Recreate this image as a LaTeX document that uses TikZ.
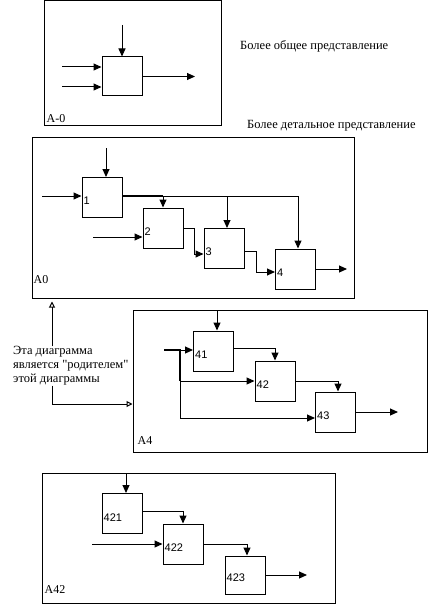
\documentclass[tikz,border=0pt]{standalone}
\usepackage{fontspec}
\setmainfont[Ligatures=TeXOff]{Liberation Serif}
\newfontfamily\numfont{Liberation Sans}
\usetikzlibrary{arrows.meta}

\begin{document}
\begin{tikzpicture}[x=1pt, y=-1pt,
    frame/.style={rectangle, draw, line width=1pt, inner sep=0pt},
    box/.style={rectangle, draw, line width=1pt, minimum width=40pt, minimum height=40pt, inner sep=0pt},
    num/.style={anchor=west, inner sep=2pt, font=\numfont\fontsize{11}{13}\selectfont},
    tag/.style={anchor=base west, inner sep=0pt, font=\fontsize{12}{14}\selectfont},
    note/.style={inner sep=0pt, font=\fontsize{12.5}{14}\selectfont},
    arrow/.style={-{Triangle[length=8pt,width=7pt]}, line width=1pt},
    parent/.style={-{Triangle[open,length=6pt,width=6pt]}, line width=1pt},
    heavy/.style={line width=2.2pt}
]
    \useasboundingbox (0,0) rectangle (440,607);

    % Frames
    \node[frame, minimum width=177pt, minimum height=124pt] (f1) at (132.5,63) {};
    \node[frame, minimum width=322pt, minimum height=161pt] (f2) at (193,217.5) {};
    \node[frame, minimum width=294pt, minimum height=142pt] (f3) at (280,381) {};
    \node[frame, minimum width=293pt, minimum height=130pt] (f4) at (188.5,538) {};
    \node[tag] (tf1) at ([xshift=3pt,yshift=3pt]f1.south west) {A-0};
    \node[tag] (tf2) at ([xshift=2pt,yshift=15pt]f2.south west) {A0};
    \node[tag] (tf3) at ([xshift=5pt,yshift=8pt]f3.south west) {A4};
    \node[tag] (tf4) at ([xshift=3pt,yshift=10pt]f4.south west) {A42};

    % Notes
    \node[note, anchor=west] (t1) at (240,46) {Более общее представление};
    \node[note, anchor=west] (t2) at (247,126) {Более детальное представление};
    \node[note, anchor=west, align=left] (note) at (13,366) {Эта диаграмма\\является "родителем"\\этой диаграммы};

    % A-0
    \node[box, minimum height=39pt] (b0) at (122,76.5) {};
    \coordinate (c0) at (122,25);
    \coordinate (i01) at (62,67);
    \coordinate (i02) at (62,87);
    \coordinate (o0) at (195,76.5);
    \draw[arrow] (c0) -- (b0.north);
    \draw[arrow] (i01) -- (i01 -| b0.west);
    \draw[arrow] (i02) -- (i02 -| b0.west);
    \draw[arrow] (b0.east) -- (o0);

    % A0
    \node[box] (b1) at (102,197.5) {};
    \node[box] (b2) at (163,228) {};
    \node[box] (b3) at (224,248.5) {};
    \node[box] (b4) at (295.5,269) {};
    \node[num] (n1) at ([yshift=-3.5pt]b1.west) {1};
    \node[num] (n2) at ([yshift=-3.5pt]b2.west) {2};
    \node[num] (n3) at ([yshift=-3.5pt]b3.west) {3};
    \node[num] (n4) at ([yshift=-3.5pt]b4.west) {4};
    \coordinate (c1) at (106,148);
    \coordinate (i1) at (42,196);
    \coordinate (i2) at (93,237);
    \coordinate (j3) at (227,196);
    \coordinate (j4) at (298,196);
    \coordinate (o4) at (347,269);
    \draw[arrow] (c1) -- (c1 |- b1.north);
    \draw[arrow] (i1) -- (i1 -| b1.west);
    \draw[arrow] (i2) -- (i2 -| b2.west);
    \draw[heavy] (i1 -| b1.east) -- (i1 -| b2.north);
    \draw[arrow] (i1 -| b2.north) -- (b2.north);
    \draw[arrow] (i1 -| b2.north) -- (j4) -- (j4 |- b4.north);
    \draw[arrow] (j3) -- (j3 |- b3.north);
    \draw[arrow] (b2.east) -- ++(11,0) |- ([yshift=-5.5pt]b3.west);
    \draw[arrow] ([yshift=-2.5pt]b3.east) -- ++(12,0) |- ([yshift=-3pt]b4.west);
    \draw[arrow] (b4.east) -- (o4);

    % A4
    \node[box] (b41) at (213.5,351) {};
    \node[box] (b42) at (275,381) {};
    \node[box] (b43) at (335.5,412) {};
    \node[num] (n41) at ([yshift=-3.5pt]b41.west) {41};
    \node[num] (n42) at ([yshift=-3.5pt]b42.west) {42};
    \node[num] (n43) at ([yshift=-3.5pt]b43.west) {43};
    \coordinate (c41) at (217,310);
    \coordinate (i4) at (164,350);
    \coordinate (s4) at (180,350);
    \coordinate (o43) at (398,412);
    \draw[arrow] (c41) -- (c41 |- b41.north);
    \draw[heavy] (i4) -- (s4) -- ++(0,31);
    \draw[arrow] (s4) -- (s4 -| b41.west);
    \draw[arrow] ([yshift=-31pt]s4) -- (b42.west);
    \draw[arrow] ([yshift=-31pt]s4) |- ([yshift=-6pt]b43.west);
    \draw[arrow] ([yshift=3pt]b41.east) -| (b42.north);
    \draw[arrow] (b42.east) -| ([xshift=2.5pt]b43.north);
    \draw[arrow] (b43.east) -- (o43);

    % A42
    \node[box] (b421) at (122,513.5) {};
    \node[box] (b422) at (183,544) {};
    \node[box, minimum height=38pt] (b423) at (245,575) {};
    \node[num] (n421) at ([yshift=-4.5pt]b421.west) {421};
    \node[num] (n422) at ([yshift=-4pt]b422.west) {422};
    \node[num] (n423) at ([yshift=-3pt]b423.west) {423};
    \coordinate (c421) at (126,473);
    \coordinate (i422) at (92,544);
    \coordinate (o423) at (307,575);
    \draw[arrow] (c421) -- (c421 |- b421.north);
    \draw[arrow] ([yshift=2.5pt]b421.east) -| (b422.north);
    \draw[arrow] (i422) -- (b422.west);
    \draw[arrow] (b422.east) -| ([xshift=2pt]b423.north);
    \draw[arrow] (b423.east) -- (o423);

    % parent link
    \coordinate (pp) at (52,366);
    \draw[parent] (note.north -| pp) -- ([yshift=-3pt]f2.south -| pp);
    \draw[parent] (note.south -| pp) |- ([yshift=-23pt]f3.west);
\end{tikzpicture}
\end{document}
